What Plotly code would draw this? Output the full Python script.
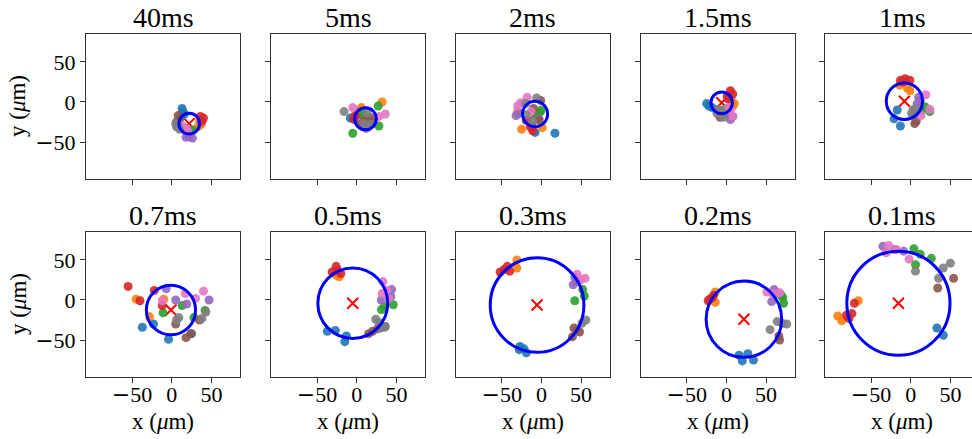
import plotly.graph_objects as go

# Pulse durations shown in each panel (row-major order)
TITLES = ["40ms", "5ms", "2ms", "1.5ms", "1ms", "0.7ms", "0.5ms", "0.3ms", "0.2ms", "0.1ms"]

# Fitted ring for each panel: centre (µm) and radius (µm)
CX = [22, 11, -8, -6, -8, -1, -5, -5.5, 22, -15.5]
CY = [-27, -21, -15, -1, 1, -12.5, -4, -6.3, -24, -4]
R = [13, 13.7, 15.8, 13.5, 22.8, 31, 44, 59, 47.6, 65]

# Group index -> colour (0 blue, 1 orange, 2 green, 3 red, 4 purple, 5 brown, 6 pink, 7 gray)
COLORS = ["#1f77b4", "#ff7f0e", "#2ca02c", "#d62728", "#9467bd", "#8c564b", "#e377c2", "#7f7f7f"]

# Measured spot positions per panel
X_40 = [13, 14, 16, 12, 37, 35, 33, 22, 18, 26, 40, 38, 36, 18, 26, 22, 8, 10, 6, 18, 20, 14, 6, 5, 10, 8]
Y_40 = [-8, -12, -15, -18, -28, -24, -31, -38, -36, -35, -20, -24, -18, -44, -45, -43, -17, -21, -25, -33, -36, -30, -31, -27, -34, -29]
G_40 = [0, 0, 0, 0, 1, 1, 1, 2, 2, 2, 3, 3, 3, 4, 4, 4, 5, 5, 5, 6, 6, 6, 7, 7, 7, 7]

X_5 = [-8, 2, -3, 32, 6, 4, 27, 28, -5, 8, -4, -2, 8, 12, 20, 14, 15, 5, 18, -5, 36, 28, -16, 13, 9, 18]
Y_5 = [-20, -16, -22, 0, -7, -10, -5, -30, -39, -15, -21, -17, -25, -33, -26, -30, -23, -28, -20, -7, -15, -18, -12, -14, -27, -28]
G_5 = [0, 0, 0, 1, 1, 1, 2, 2, 2, 2, 3, 3, 3, 4, 4, 4, 5, 5, 5, 6, 6, 6, 7, 7, 7, 7]

X_2 = [-8, 17, -12, -25, 1, -30, -2, -6, 0, -11, -19, -14, -32, -3, -28, -1, -3, -10, -18, -30, -13, -26, -6, -11, -19, -20]
Y_2 = [-38, -39, -30, -34, -32, -12, -13, -18, -10, -36, -23, -31, -17, -21, -14, 2, -23, -8, 6, -5, -12, -1, 5, -24, -16, -2]
G_2 = [0, 0, 0, 1, 1, 1, 2, 2, 2, 3, 3, 3, 4, 4, 4, 5, 5, 5, 6, 6, 6, 6, 7, 7, 7, 7]

X_15 = [-25, -18, -22, 10, 6, 8, 0, -3, 5, 1, 8, 2, 5, 8, 3, -8, -5, -10, 2, 8, 5, -10, -12, -3, -6]
Y_15 = [-2, -7, -5, -2, 2, -5, -8, -10, 14, 7, 10, 4, -22, -18, -15, -19, -14, -12, -7, -18, -10, -9, -14, -19, -12]
G_15 = [0, 0, 0, 1, 1, 1, 2, 2, 3, 3, 3, 3, 4, 4, 4, 5, 5, 5, 6, 6, 6, 7, 7, 7, 7]

X_1 = [-17, -21, -13, -1, -14, -4, 24, 14, 18, -13, -7, -1, -10, 10, 12, 8, 5, 7, 19, 24, 13, 3, 1, 6, 4]
Y_1 = [-10, -21, -30, 14, 21, 17, -12, -10, -6, 27, 29, 27, 25, 6, 2, -2, -27, -24, 9, -9, -17, -10, -14, -8, -16]
G_1 = [0, 0, 0, 1, 1, 1, 2, 2, 2, 3, 3, 3, 3, 4, 4, 4, 5, 5, 6, 6, 6, 7, 7, 7, 7]

X_07 = [-37, -23, -4, 25, -45, -28, -10, -11, 13, 28, 42, -55, -40, -22, -12, -7, 5, 19, 47, 5, 18, 24, 35, -12, 17, 30, 40, 9, 6, 38, 43]
Y_07 = [-34, -30, -49, -42, 1, -21, 1, -16, -7, -22, -13, 17, -1, 12, -7, 14, 0, -5, 0, -30, -47, -42, -25, -1, 8, 2, 11, -22, -25, -23, -15]
G_07 = [0, 0, 0, 0, 1, 1, 1, 2, 2, 2, 2, 3, 3, 3, 3, 4, 4, 4, 4, 5, 5, 5, 5, 6, 6, 6, 6, 7, 7, 7, 7]

X_05 = [-37, -27, -15, -13, -22, -26, 46, 31, 35, -26, -31, -20, -24, 44, 31, 43, 15, 26, 36, 20, 33, 32, 40, 38, 24, 35, 30, 28]
Y_05 = [-39, -38, -52, -45, 29, 31, -6, -12, -8, 42, 35, 33, 37, 13, 0, 4, -42, -36, -33, -39, 23, 8, 2, 12, -24, -34, -35, -28]
G_05 = [0, 0, 0, 0, 1, 1, 2, 2, 2, 3, 3, 3, 3, 4, 4, 4, 5, 5, 5, 5, 6, 6, 6, 6, 7, 7, 7, 7]

X_03 = [-27, -19, -28, -22, -31, -31, 42, 54, 52, -52, -43, -40, -47, 40, 45, 42, 41, 48, 39, 45, 55, 45, 49, 56, 51]
Y_03 = [-58, -66, -62, -61, 50, 40, -1, 5, 13, 35, 42, 36, 38, 19, 23, 28, -35, -40, -46, -37, 27, 32, 25, -25, -29]
G_03 = [0, 0, 0, 0, 1, 1, 2, 2, 2, 3, 3, 3, 3, 4, 4, 4, 5, 5, 5, 5, 6, 6, 6, 7, 7]

X_02 = [20, 27, 34, 16, -14, -14, 71, 72, 69, -23, -18, -21, -16, 60, 57, 64, 67, 66, 51, 67, 58, 55, 64, 76, 70]
Y_02 = [-76, -67, -75, -69, 10, -3, 3, -4, 6, -1, 3, 1, 6, 13, -2, 9, -50, -45, 10, 9, 8, -37, -27, -30, -29]
G_02 = [0, 0, 0, 0, 1, 1, 2, 2, 2, 3, 3, 3, 3, 4, 4, 4, 5, 5, 6, 6, 6, 7, 7, 7, 7]

X_01 = [33, 41, -92, -87, -66, 4, 12, 26, 6, -71, -74, -81, -78, -35, -9, -20, 54, 34, -28, -31, -18, -2, 6, 41, 50, 35]
Y_01 = [-35, -44, -20, -26, -1, 64, 57, 52, 44, -4, -17, -19, -23, 67, 61, 63, 27, 15, 68, 59, 63, 51, 36, 40, 46, 27]
G_01 = [0, 0, 1, 1, 1, 2, 2, 2, 2, 3, 3, 3, 3, 4, 4, 4, 5, 5, 6, 6, 6, 6, 7, 7, 7, 7]

PANELS = [(X_40, Y_40, G_40), (X_5, Y_5, G_5), (X_2, Y_2, G_2), (X_15, Y_15, G_15), (X_1, Y_1, G_1),
          (X_07, Y_07, G_07), (X_05, Y_05, G_05), (X_03, Y_03, G_03), (X_02, Y_02, G_02), (X_01, Y_01, G_01)]

TICK_VALS = [-50, 0, 50]
MINUS = '<span style="font-family:DejaVu Sans">\u2212</span>'
TICK_TEXT = [MINUS + "50", "0", "50"]

W, H = 972, 439
COL_LEFT = [86, 271, 455.7, 640.7, 825]
PANEL_W = 154
ROW_TOP = [33.5, 231.5]
PANEL_H = 145
X_RANGE = [-108, 86]
Y_RANGE = [-95.5, 85.5]
PX_PER_UNIT = PANEL_W / (X_RANGE[1] - X_RANGE[0])

FONT = "Liberation Serif"
LINE = "#333333"

fig = go.Figure()
annotations = []
shapes = []

for i, (xs, ys, gs) in enumerate(PANELS):
    row, col = divmod(i, 5)
    idx = i + 1
    xa = "x" if idx == 1 else f"x{idx}"
    ya = "y" if idx == 1 else f"y{idx}"
    xkey = "xaxis" if idx == 1 else f"xaxis{idx}"
    ykey = "yaxis" if idx == 1 else f"yaxis{idx}"

    left = COL_LEFT[col]
    right = min(left + PANEL_W, W)
    xr = [X_RANGE[0], X_RANGE[0] + (right - left) / PX_PER_UNIT]
    top = ROW_TOP[row]
    bottom = top + PANEL_H

    # ring centre (under the spots)
    fig.add_trace(go.Scatter(
        x=[CX[i]], y=[CY[i]], mode="markers", xaxis=xa, yaxis=ya, showlegend=False,
        marker=dict(symbol="x-thin", size=11, line=dict(color="#ff0000", width=2)),
        hoverinfo="skip"))

    # spots, one trace per colour group
    for g in range(len(COLORS)):
        px = [x for x, gg in zip(xs, gs) if gg == g]
        py = [y for y, gg in zip(ys, gs) if gg == g]
        if not px:
            continue
        fig.add_trace(go.Scatter(
            x=px, y=py, mode="markers", xaxis=xa, yaxis=ya, showlegend=False,
            marker=dict(size=9, color=COLORS[g], opacity=0.9, line=dict(width=0)),
            hoverinfo="skip"))

    # fitted ring
    shapes.append(dict(
        type="circle", xref=xa, yref=ya,
        x0=CX[i] - R[i], x1=CX[i] + R[i], y0=CY[i] - R[i], y1=CY[i] + R[i],
        line=dict(color="#0000ff", width=3), layer="above"))

    axis_common = dict(
        showline=True, mirror=True, linecolor=LINE, linewidth=1,
        ticks="outside", ticklen=5, tickwidth=1, tickcolor=LINE,
        tickvals=TICK_VALS, ticktext=TICK_TEXT,
        showgrid=False, zeroline=False,
        tickfont=dict(family=FONT, size=22, color="black"),
    )
    fig.layout[xkey] = dict(
        axis_common, domain=[left / W, right / W], range=xr, anchor=ya,
        showticklabels=(row == 1), ticklabelstandoff=-7)
    fig.layout[ykey] = dict(
        axis_common, domain=[1 - bottom / H, 1 - top / H], range=Y_RANGE, anchor=xa,
        showticklabels=(col == 0))

    cx_px = (left + left + PANEL_W) / 2
    annotations.append(dict(
        text=TITLES[i], x=cx_px / W, y=1 - (top - 16) / H, xref="paper", yref="paper",
        xanchor="center", yanchor="middle", showarrow=False,
        font=dict(family=FONT, size=28, color="black")))
    if row == 1:
        annotations.append(dict(
            text="x (<i>\u03bc</i>m)", x=cx_px / W, y=1 - 421.5 / H, xref="paper", yref="paper",
            xanchor="center", yanchor="middle", showarrow=False,
            font=dict(family=FONT, size=23, color="black")))
    if col == 0:
        annotations.append(dict(
            text="y (<i>\u03bc</i>m)", x=18 / W, y=1 - (top + PANEL_H / 2) / H,
            xref="paper", yref="paper", textangle=-90,
            xanchor="center", yanchor="middle", showarrow=False,
            font=dict(family=FONT, size=23, color="black")))

fig.update_layout(
    width=W, height=H, margin=dict(l=0, r=0, t=0, b=0),
    paper_bgcolor="white", plot_bgcolor="white",
    annotations=annotations, shapes=shapes,
    font=dict(family=FONT, color="black"),
)

fig.write_html("out.html")
